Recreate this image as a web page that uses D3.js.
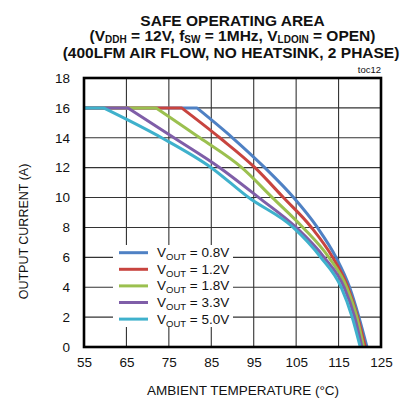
<!DOCTYPE html>
<html><head><meta charset="utf-8">
<script src="https://cdn.jsdelivr.net/npm/d3@7"></script>
<style>
html,body{margin:0;padding:0;background:#fff;}
svg{display:block;font-family:"Liberation Sans",Arial,sans-serif;}
</style></head>
<body><svg id="c" width="413" height="402"></svg>
<script>
// ---- data ----
const xTicks = [55,65,75,85,95,105,115,125];
const yTicks = [0,2,4,6,8,10,12,14,16,18];
const seriesNames = ["0.8V","1.2V","1.8V","3.3V","5.0V"];
const seriesColors = ["#4f81c4","#c8443f","#9bc04f","#7f5ea8","#3fb1cc"];
const currentLevels = [16,16,14,12,10,8,6,4,2,0];
const temp08 = [55,81.6,90.0,97.6,104.4,110.0,114.4,117.6,119.8,121.7];
const temp12 = [55,78.0,87.0,95.3,102.0,108.6,113.6,117.2,119.5,121.3];
const temp18 = [55,72.0,82.3,92.2,99.4,106.6,112.7,116.9,119.3,120.9];
const temp33 = [55,65.3,76.2,87.0,96.2,105.0,111.6,116.3,118.8,120.5];
const temp50 = [55,59.6,73.3,85.0,93.8,104.3,110.8,115.6,118.2,120.1];
const seriesTemps = [temp08,temp12,temp18,temp33,temp50];

// ---- layout ----
const svg = d3.select("#c");
const L = 84, R = 381, T = 78, B = 347;
const x = d3.scaleLinear().domain([55,125]).range([L,R]);
const y = d3.scaleLinear().domain([0,18]).range([B,T]);
const font = '"Liberation Sans",Arial,sans-serif';

// grid
const g = svg.append("g");
g.selectAll("line.v").data(xTicks.slice(1,-1)).enter().append("line")
  .attr("x1",d=>x(d)).attr("x2",d=>x(d)).attr("y1",T).attr("y2",B)
  .attr("stroke","#333").attr("stroke-width",1.1);
g.selectAll("line.h").data(yTicks.slice(1,-1)).enter().append("line")
  .attr("x1",L).attr("x2",R).attr("y1",d=>y(d)).attr("y2",d=>y(d))
  .attr("stroke","#333").attr("stroke-width",1.1);

// axes tick labels
const xAxis = d3.axisBottom(x).tickValues(xTicks).tickSize(0).tickPadding(8);
const ax = svg.append("g").attr("transform",`translate(0,${B})`).call(xAxis);
ax.select(".domain").remove();
ax.selectAll("text").attr("font-size","13.5px").attr("font-family",font).attr("fill","#111").attr("dy","0.9em");
const yAxis = d3.axisLeft(y).tickValues(yTicks).tickSize(0).tickPadding(14);
const ay = svg.append("g").attr("transform",`translate(${L},0)`).call(yAxis);
ay.select(".domain").remove();
ay.selectAll("text").attr("font-size","13.5px").attr("font-family",font).attr("fill","#111");

// legend background
const legX = 113, legY = 245, legW = 120, legH = 82;
svg.append("rect").attr("x",legX).attr("y",legY).attr("width",legW).attr("height",legH).attr("fill","#fff");

// curves
const curve = d3.line().x(d=>x(d[0])).y(d=>y(d[1])).curve(d3.curveMonotoneX);
const flat = d3.line().x(d=>x(d[0])).y(d=>y(d[1]));
seriesTemps.forEach((ts,i)=>{
  const pts = ts.map((t,j)=>[t,currentLevels[j]]);
  svg.append("path").attr("d",flat(pts.slice(0,2))+curve(pts.slice(1)).replace(/^M/,"L"))
    .attr("fill","none").attr("stroke",seriesColors[i]).attr("stroke-width",3)
    .attr("stroke-linejoin","round");
});

// frame
svg.append("rect").attr("x",L).attr("y",T).attr("width",R-L).attr("height",B-T)
  .attr("fill","none").attr("stroke","#000").attr("stroke-width",2.6);

// legend
seriesNames.forEach((n,i)=>{
  const yy = 252.7 + i*16.6;
  svg.append("line").attr("x1",119).attr("x2",148).attr("y1",yy).attr("y2",yy)
    .attr("stroke",seriesColors[i]).attr("stroke-width",3);
  const t = svg.append("text").attr("x",157).attr("y",yy+4.5)
    .attr("font-size","13.5px").attr("font-family",font).attr("fill","#111");
  t.append("tspan").text("V");
  t.append("tspan").text("OUT").attr("font-size","9.5px").attr("dy","3");
  t.append("tspan").text(" = "+n).attr("dy","-3");
});

// titles
const tt = svg.append("g").attr("font-family",font).attr("font-weight","bold")
  .attr("font-size","15.5px").attr("text-anchor","middle").attr("fill","#111");
tt.append("text").attr("x",232.5).attr("y",25.5).text("SAFE OPERATING AREA");
const l2 = tt.append("text").attr("x",232.5).attr("y",41);
l2.append("tspan").text("(V");
l2.append("tspan").text("DDH").attr("font-size","10px").attr("dy","2");
l2.append("tspan").text(" = 12V, f").attr("dy","-2");
l2.append("tspan").text("SW").attr("font-size","10px").attr("dy","2");
l2.append("tspan").text(" = 1MHz, V").attr("dy","-2");
l2.append("tspan").text("LDOIN").attr("font-size","10px").attr("dy","2");
l2.append("tspan").text(" = OPEN)").attr("dy","-2");
tt.append("text").attr("x",231).attr("y",58).text("(400LFM AIR FLOW, NO HEATSINK, 2 PHASE)");

svg.append("text").attr("x",381).attr("y",73).attr("text-anchor","end")
  .attr("font-family",font).attr("font-size","9.5px").attr("fill","#111").text("toc12");

// axis titles
svg.append("text").attr("x",243).attr("y",394.5).attr("text-anchor","middle")
  .attr("font-family",font).attr("font-size","13.5px").attr("fill","#111")
  .text("AMBIENT TEMPERATURE (°C)");
svg.append("text").attr("transform","translate(28,231.5) rotate(-90)").attr("text-anchor","middle")
  .attr("font-family",font).attr("font-size","12.5px").attr("fill","#111")
  .text("OUTPUT CURRENT (A)");
</script></body></html>
